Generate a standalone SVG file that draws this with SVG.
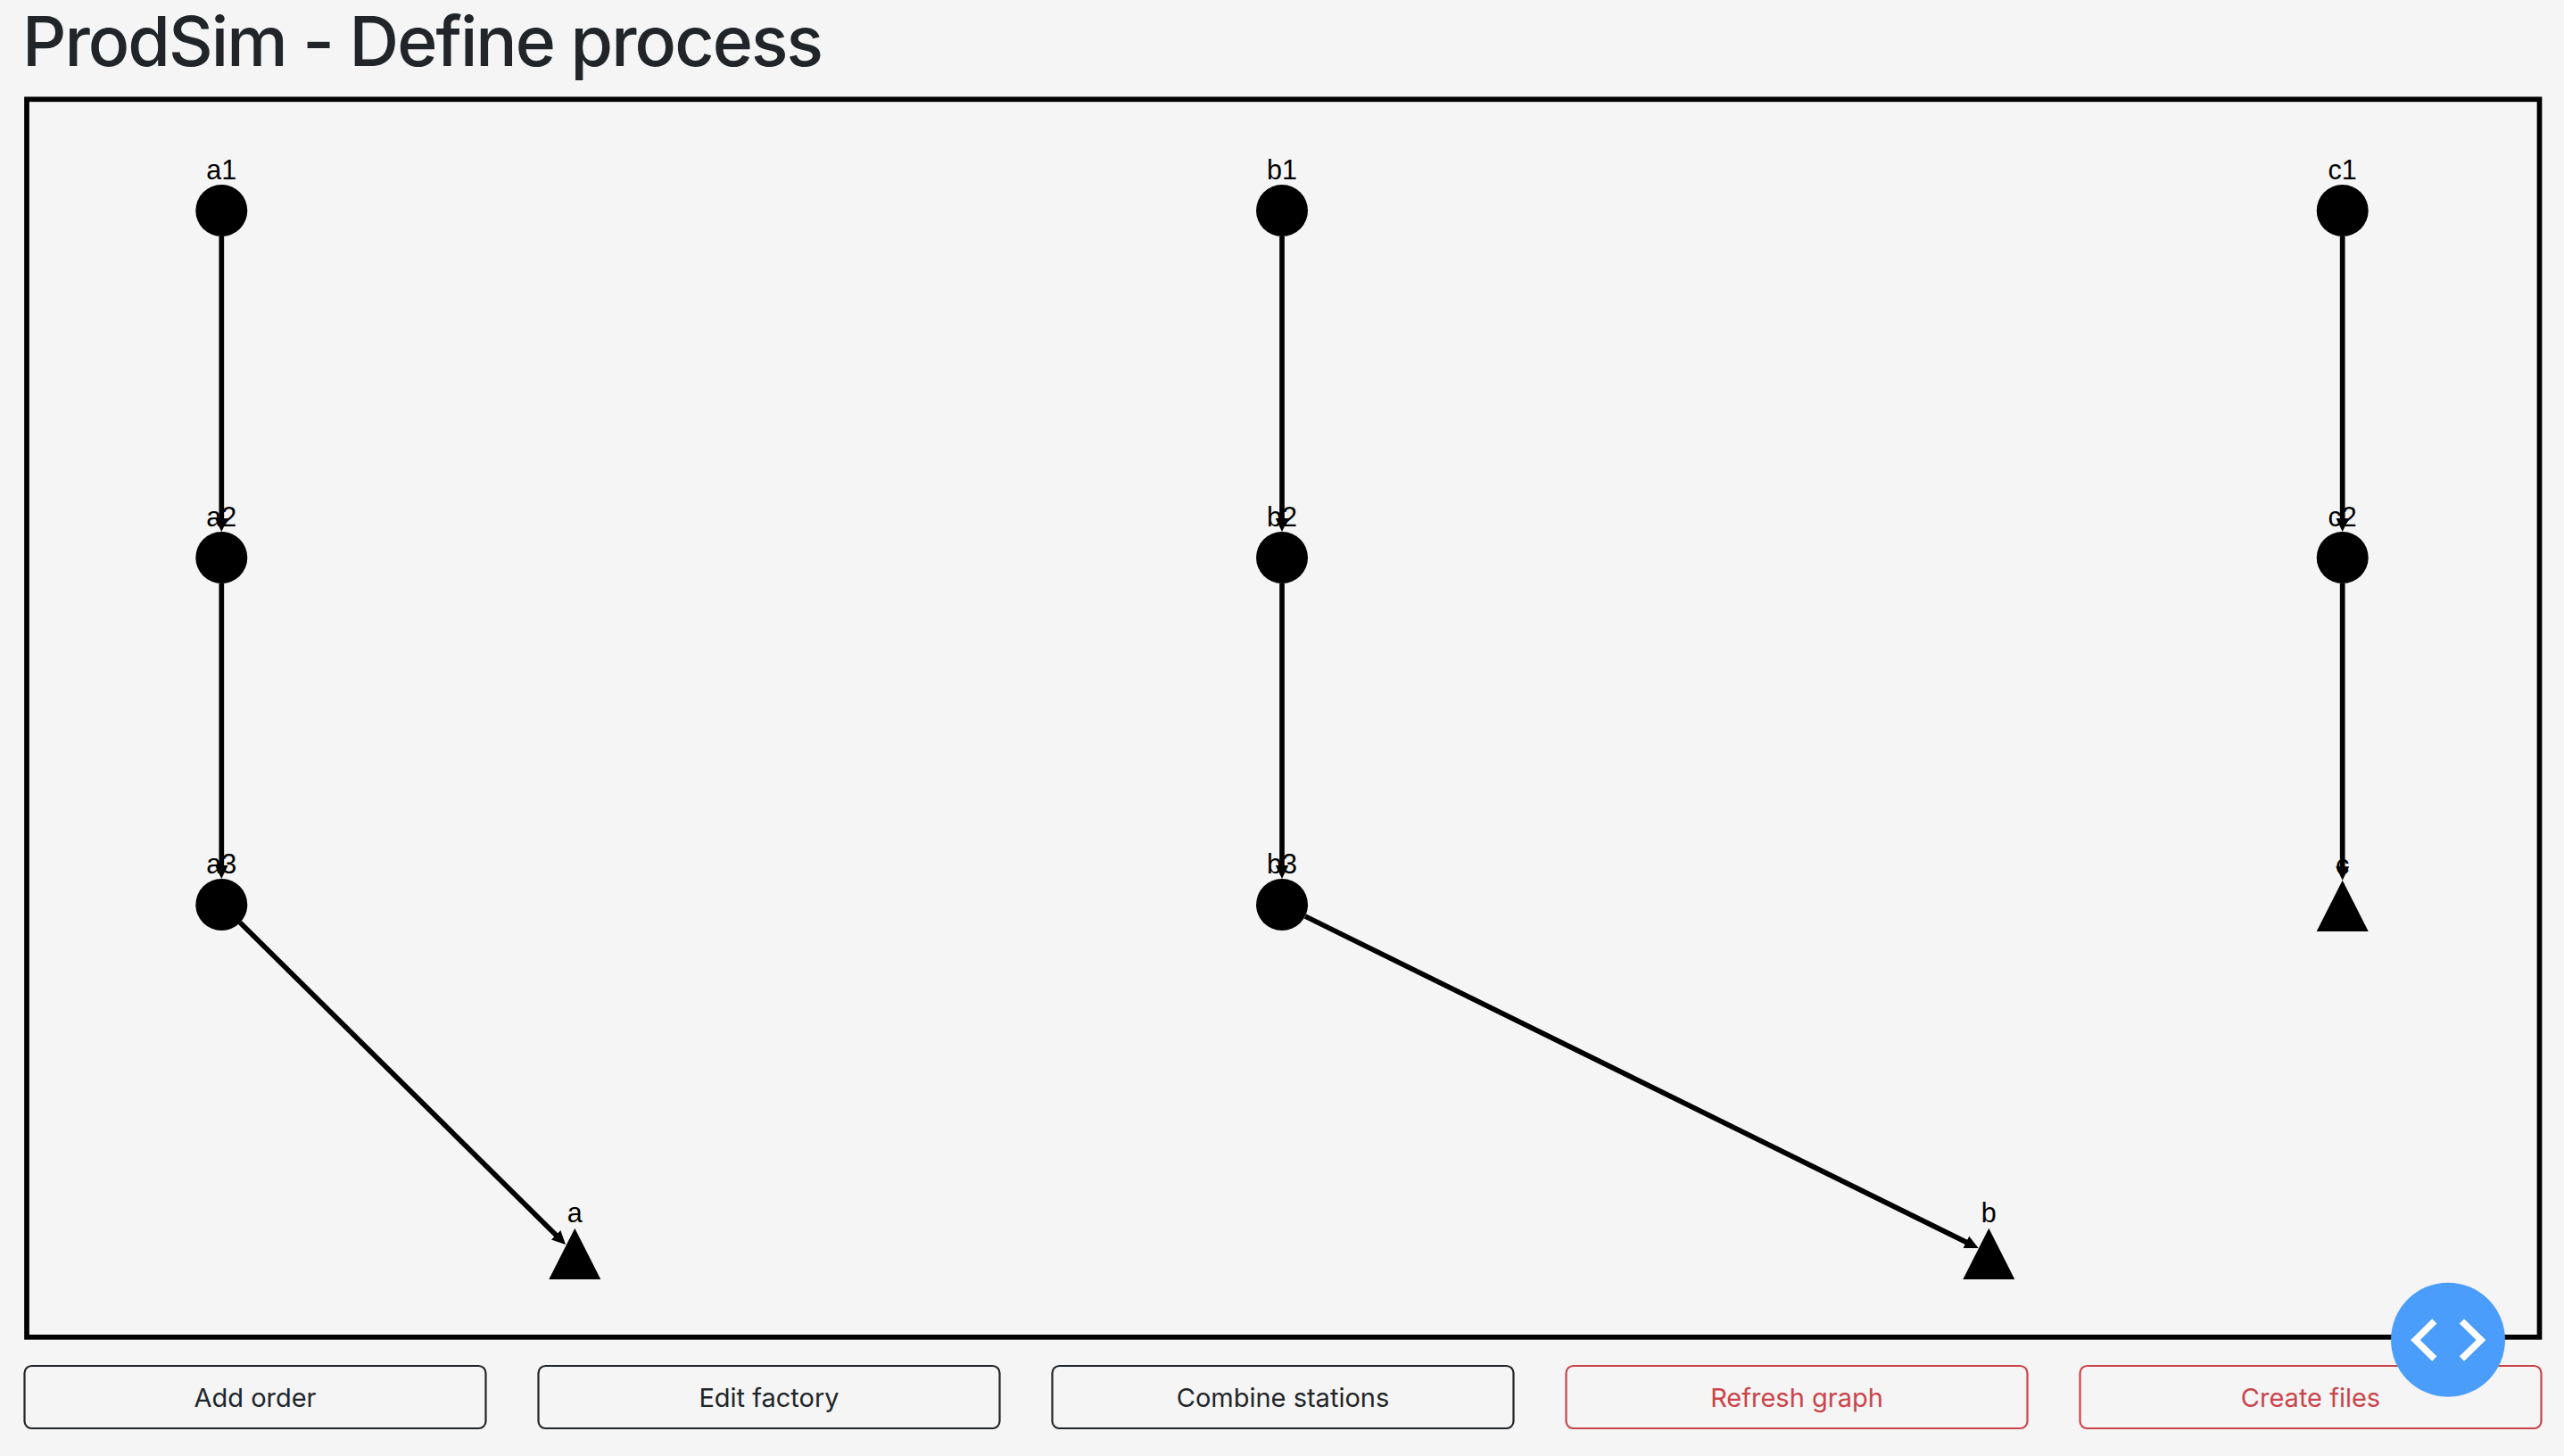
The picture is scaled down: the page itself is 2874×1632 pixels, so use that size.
<svg xmlns="http://www.w3.org/2000/svg" width="2874" height="1632" viewBox="0 0 2874 1632">
<style>
.lbl{font-family:"Liberation Sans",Arial,sans-serif;font-size:30.5px;fill:#000;text-anchor:middle}
.edge{stroke:#000;stroke-width:5.7;fill:none;marker-end:url(#arrow)}
.shape{fill:#000}
.btn{fill:none;stroke-width:2.2;stroke:#212529}
.btn.red{stroke:#cb444a}
.btxt{font-family:Inter,"Noto Sans",sans-serif;font-size:29px;fill:#212529;text-anchor:middle}
.btxt.red{fill:#cb444a}
</style>
<defs>
<marker id="arrow" markerUnits="userSpaceOnUse" markerWidth="16" markerHeight="16" refX="5.5" refY="8" orient="auto" viewBox="0 0 16 16"><path d="M0,0.5 L15.5,8 L0,15.5 Z" fill="#000"/></marker>
</defs>
<rect width="2874" height="1632" fill="#f5f5f5"/>
<text x="25" y="74" font-family="Inter,'Noto Sans',sans-serif" font-size="77" font-weight="550" letter-spacing="-1.95" fill="#212529">ProdSim - Define process</text>
<rect id="frame" x="30" y="111.3" width="2816.5" height="1387.5" fill="none" stroke="#000" stroke-width="5.7"/>
<g id="connectors">
<line class="edge" x1="248.3" y1="265" x2="248.3" y2="586"/>
<line class="edge" x1="248.3" y1="654" x2="248.3" y2="975"/>
<line class="edge" x1="1437" y1="265" x2="1437" y2="586"/>
<line class="edge" x1="1437" y1="654" x2="1437" y2="975"/>
<line class="edge" x1="2625.7" y1="265" x2="2625.7" y2="586"/>
<line class="edge" x1="2625.7" y1="654" x2="2625.7" y2="976.7"/>
<line class="edge" x1="269" y1="1034" x2="626.9" y2="1388"/>
<line class="edge" x1="1463" y1="1027" x2="2208.7" y2="1394.6"/>
</g>
<g id="a1"><circle class="shape" cx="248.3" cy="236" r="29"/><text class="lbl" x="248.3" y="200.7">a1</text></g>
<g id="a2"><circle class="shape" cx="248.3" cy="625" r="29"/><text class="lbl" x="248.3" y="590">a2</text></g>
<g id="a3"><circle class="shape" cx="248.3" cy="1014" r="29"/><text class="lbl" x="248.3" y="979">a3</text></g>
<g id="b1"><circle class="shape" cx="1437" cy="236" r="29"/><text class="lbl" x="1437" y="200.7">b1</text></g>
<g id="b2"><circle class="shape" cx="1437" cy="625" r="29"/><text class="lbl" x="1437" y="590">b2</text></g>
<g id="b3"><circle class="shape" cx="1437" cy="1014" r="29"/><text class="lbl" x="1437" y="979">b3</text></g>
<g id="c1"><circle class="shape" cx="2625.7" cy="236" r="29"/><text class="lbl" x="2625.7" y="200.7">c1</text></g>
<g id="c2"><circle class="shape" cx="2625.7" cy="625" r="29"/><text class="lbl" x="2625.7" y="590">c2</text></g>
<g id="a"><polygon class="shape" points="644.3,1376.7 673.3,1434 615.3,1434"/><text class="lbl" x="644.3" y="1370">a</text></g>
<g id="b"><polygon class="shape" points="2229.3,1376.7 2258.3,1434 2200.3,1434"/><text class="lbl" x="2229.3" y="1370">b</text></g>
<g id="c"><polygon class="shape" points="2625.7,986.7 2654.7,1044 2596.7,1044"/><text class="lbl" x="2625.7" y="980">c</text></g>
<g id="btn-add"><rect class="btn" x="27.5" y="1531" width="517" height="70" rx="8"/><text class="btxt" x="286" y="1577">Add order</text></g>
<g id="btn-edit"><rect class="btn" x="603.5" y="1531" width="517" height="70" rx="8"/><text class="btxt" x="862" y="1577">Edit factory</text></g>
<g id="btn-combine"><rect class="btn" x="1179.5" y="1531" width="517" height="70" rx="8"/><text class="btxt" x="1438" y="1577">Combine stations</text></g>
<g id="btn-refresh"><rect class="btn red" x="1755.5" y="1531" width="517" height="70" rx="8"/><text class="btxt red" x="2014" y="1577">Refresh graph</text></g>
<g id="btn-create"><rect class="btn red" x="2331.5" y="1531" width="517" height="70" rx="8"/><text class="btxt red" x="2590" y="1577">Create files</text></g>
<g id="fab"><circle cx="2744" cy="1501.7" r="64" fill="#4a9dfb"/><path d="M2728.8,1480.8 L2707.4,1502 L2728.8,1523 M2759.4,1480.8 L2781,1502 L2759.4,1523" fill="none" stroke="#fff" stroke-width="7.4"/></g>
</svg>
